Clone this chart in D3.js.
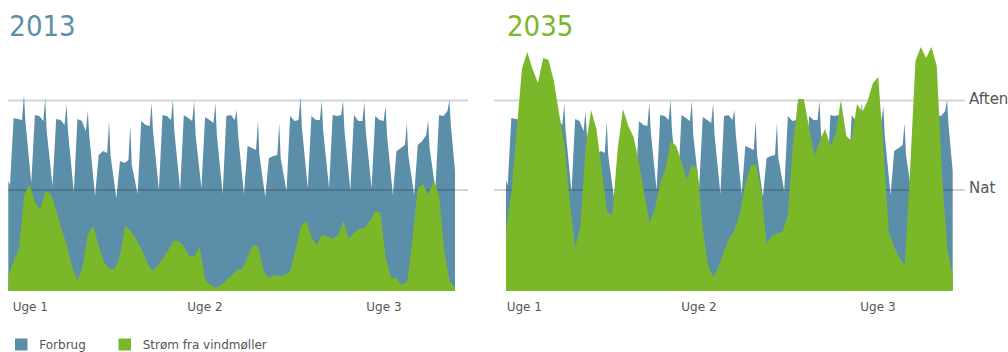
<!DOCTYPE html>
<html><head><meta charset="utf-8">
<script src="https://cdn.jsdelivr.net/npm/d3@7"></script>
<style>
html,body{margin:0;padding:0;background:#fff;}
svg{display:block;}
text{font-family:"DejaVu Sans",Verdana,sans-serif;}
</style></head>
<body>
<svg id="chart" width="1008" height="352"></svg>
<script>
// ---- data ----
const titles = ["2013", "2035"];
const legendLabels = ["Forbrug", "Strøm fra vindmøller"];
const weekLabels = ["Uge 1", "Uge 2", "Uge 3"];
const weekHours = [0, 197, 399];           // hour positions of week labels
const levelLabels = ["Aften", "Nat"];
const levelValues = [190.5, 101];           // consumption level (relative units)

// Consumption (same profile both years): hour-of-day offsets and per-day readings
const dayOffsets = [1.9, 6, 11, 15.5, 17.7, 19.3];
const forbrugStart = 110;   // hour 0
const forbrugEnd = 120;     // hour 504
const forbrugDays = [
  [106,173,172,171,196,170],
  [108,176,175,170,193,160],
  [105,172,171,166,187,160],
  [ 99,172,170,160,180,156],
  [ 95,136,140,138,170,136],
  [ 93,130,128,131,165,126],
  [ 97,170,166,165,188,160],
  [101,176,175,171,191,160],
  [101,176,173,170,190,156],
  [103,174,171,168,188,156],
  [ 97,175,176,171,181,156],
  [ 97,145,143,141,170,136],
  [ 94,133,135,136,168,133],
  [100,175,170,171,194,163],
  [103,175,171,171,190,160],
  [103,176,175,176,190,160],
  [101,176,170,170,189,160],
  [103,175,171,170,185,156],
  [ 96,140,143,146,168,136],
  [ 96,146,150,156,171,143],
  [102,176,175,180,191,166]
];

// Wind production, one reading every 6 hours
const windStepHours = 6;
const wind2013 = [16,30,42,96,107,89,81,100,97,81,62,46,24,10,25,58,65,45,29,22,22,35,66,60,52,42,30,20,25,32,40,50,50,45,35,35,44,12,6,3,6,11,15,21,22,34,46,44,20,13,16,15,16,20,41,64,70,54,46,56,55,52,56,70,52,58,62,63,70,80,78,32,13,13,6,9,52,103,107,96,111,95,40,9,4];
const wind2035 = [61,97,160,222,239,222,208,233,231,210,177,146,88,43,65,145,181,162,121,80,75,142,182,165,154,128,98,68,82,108,122,150,145,129,112,126,122,62,25,14,24,40,53,61,78,107,125,127,100,47,55,58,59,76,150,192,192,163,135,150,162,145,157,190,155,150,187,179,190,208,214,140,58,44,33,26,122,230,244,233,244,225,115,42,15];

// ---- build series ----
const forbrug = [{h:0, v:forbrugStart}];
forbrugDays.forEach((vals, d) => vals.forEach((v, i) => forbrug.push({h: d*24 + dayOffsets[i], v})));
forbrug.push({h:504, v:forbrugEnd});
const toSeries = arr => arr.map((v, i) => ({h: i*windStepHours, v}));
const windSeries = [toSeries(wind2013), toSeries(wind2035)];

// ---- layout ----
const BLUE = "#5b8fa9", GREEN = "#7ab82a", TEXT = "#555";
const svg = d3.select("#chart");
const y = d3.scaleLinear().domain([0, 250]).range([291, 41]);
const panels = [
  {x0: 8.3, x1: 455, gx0: 8, gx1: 468, labelDx: 4.4, titleColor: BLUE},
  {x0: 506, x1: 952.7, gx0: 494, gx1: 965, labelDx: 0.7, titleColor: GREEN}
];

panels.forEach((p, pi) => {
  const x = d3.scaleLinear().domain([0, 504]).range([p.x0, p.x1]);
  const area = d3.area().x(d => x(d.h)).y0(y(0)).y1(d => y(d.v));
  const g = svg.append("g");

  g.append("path").datum(forbrug).attr("d", area).attr("fill", BLUE);

  // level gridlines (drawn over consumption, under wind)
  g.selectAll("line.level").data(levelValues).join("line")
    .attr("class", "level")
    .attr("x1", p.gx0).attr("x2", p.gx1)
    .attr("y1", d => y(d)).attr("y2", d => y(d))
    .attr("stroke", "rgba(0,0,0,0.17)").attr("stroke-width", 2);

  g.append("path").datum(windSeries[pi]).attr("d", area).attr("fill", GREEN);

  // title
  g.append("text").attr("x", x(0) + 1).attr("y", 36)
    .style("font-family", "'DejaVu Sans Condensed','DejaVu Sans',sans-serif")
    .style("font-stretch", "condensed")
    .attr("font-size", 29).attr("fill", p.titleColor).text(titles[pi]);

  // week labels
  g.selectAll("text.wk").data(weekHours).join("text")
    .attr("class", "wk")
    .attr("x", d => x(d) + p.labelDx).attr("y", 311)
    .attr("font-size", 12).attr("fill", TEXT)
    .text((d, i) => weekLabels[i]);

  // level labels on the right panel
  if (pi === 1) {
    g.selectAll("text.lvl").data(levelValues).join("text")
      .attr("class", "lvl")
      .attr("x", 969).attr("y", d => y(d) + 3)
      .attr("font-size", 15).attr("fill", TEXT)
      .text((d, i) => levelLabels[i]);
  }
});

// legend
const legendX = [15, 118.5];
const legendTextX = [39.3, 142.7];
const legendColors = [BLUE, GREEN];
const lg = svg.append("g");
legendLabels.forEach((l, i) => {
  lg.append("rect").attr("x", legendX[i]).attr("y", 338.5).attr("width", 12.5).attr("height", 12).attr("fill", legendColors[i]);
  lg.append("text").attr("x", legendTextX[i]).attr("y", 349.3).attr("font-size", 12).attr("fill", TEXT).text(l);
});
</script>
</body></html>
